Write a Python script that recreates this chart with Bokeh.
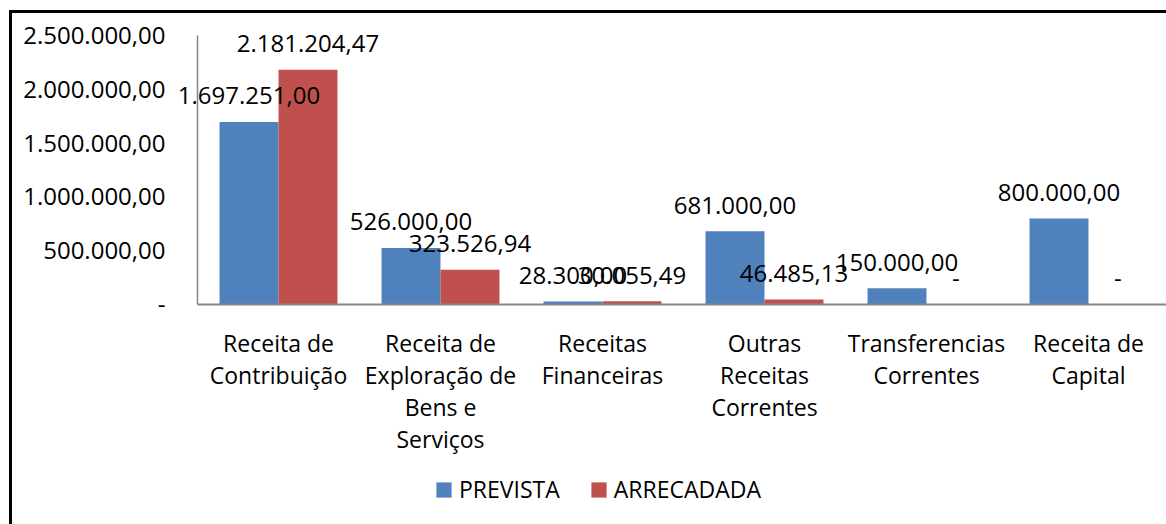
from bokeh.plotting import figure
from bokeh.models import (ColumnDataSource, Range1d, FixedTicker, LabelSet, Legend,
                          LegendItem)
from bokeh.core.properties import value
from bokeh.embed import file_html
from bokeh.resources import INLINE

categories = ["Receita de\nContribuição", "Receita de\nExploração de\nBens e\nServiços",
              "Receitas\nFinanceiras", "Outras\nReceitas\nCorrentes",
              "Transferencias\nCorrentes", "Receita de\nCapital"]
prevista = [1697251.00, 526000.00, 28300.00, 681000.00, 150000.00, 800000.00]
arrecadada = [2181204.47, 323526.94, 30055.49, 46485.13, 0.0, 0.0]
y_ticks = [0, 500000, 1000000, 1500000, 2000000, 2500000]
y_tick_labels = ["-", "500.000,00", "1.000.000,00", "1.500.000,00", "2.000.000,00", "2.500.000,00"]
y_max = 2500000

FONT = "Open Sans"
FS = "23px"
FS_NUM = "24px"
BLUE = "#4F81BD"
RED = "#C0504D"
AXIS = "#868686"


def fmt(v):
    if v == 0:
        return "-"
    s = f"{v:,.2f}"
    return s.replace(",", "X").replace(".", ",").replace("X", ".")


# layout in pixels
W, H = 1166, 524
frame_left = 12         # frame starts just inside the outer border
frame_top = 13
axis_x = 197            # pixel position of the value axis
plot_top = 35           # pixel position of y_max
plot_h = 269            # height of the value area (0 .. y_max)
step = 162.0            # width of one category
line_h = 32             # line spacing of category names
fh = H - frame_top
zero_px = plot_top + plot_h
y_end = y_max * (1 + (plot_top - frame_top) / plot_h)
y_start = -y_max * (H - zero_px) / plot_h
x_end = (W - axis_x) / step

n = len(categories)
xs = [i + 0.5 for i in range(n)]
bw = 0.364

p = figure(frame_width=W - frame_left, frame_height=fh, output_backend="svg",
           toolbar_location=None,
           x_range=Range1d(-(axis_x - frame_left) / step, x_end),
           y_range=Range1d(y_start, y_end),
           min_border_left=frame_left, min_border_top=frame_top, min_border_bottom=0,
           min_border_right=0)
p.outline_line_color = None
p.xgrid.visible = False
p.ygrid.visible = False
p.background_fill_color = "white"
p.border_fill_alpha = 0
# outer chart border (cropped at right/bottom in the reference)
p.styles = {"background": "linear-gradient(#000,#000) 9px 10px / 3px 2000px no-repeat, "
                          "linear-gradient(#000,#000) 9px 10px / 3000px 3px no-repeat, white"}

src_p = ColumnDataSource(dict(x=[x - bw / 2 for x in xs], y=prevista,
                              t=[fmt(v) for v in prevista]))
src_a = ColumnDataSource(dict(x=[x + bw / 2 for x in xs], y=arrecadada,
                              t=[fmt(v) for v in arrecadada]))
r1 = p.vbar(x="x", top="y", width=bw, source=src_p, fill_color=BLUE, line_color=None)
r2 = p.vbar(x="x", top="y", width=bw, source=src_a, fill_color=RED, line_color=None)

for src in (src_p, src_a):
    p.add_layout(LabelSet(x="x", y="y", text="t", source=src, y_offset=26,
                          text_align="center", text_baseline="middle",
                          text_font=value(FONT), text_font_size=FS_NUM, text_color="black"))

# category axis: baseline line + category names, one centred line at a time
p.xaxis.visible = False
p.segment(x0=[0], y0=[0], x1=[x_end], y1=[0], line_color=AXIS, line_width=2)
lines = [c.split("\n") for c in categories]
for k in range(max(len(l) for l in lines)):
    idx = [i for i, l in enumerate(lines) if len(l) > k]
    src_c = ColumnDataSource(dict(x=[xs[i] for i in idx], y=[0] * len(idx),
                                  t=[lines[i][k] for i in idx]))
    p.add_layout(LabelSet(x="x", y="y", text="t", source=src_c,
                          y_offset=-(38 + k * line_h),
                          text_align="center", text_baseline="middle",
                          text_font=value(FONT), text_font_size=FS, text_color="black"))

ya = p.yaxis[0]
ya.fixed_location = 0
ya.ticker = FixedTicker(ticks=y_ticks)
ya.major_label_overrides = {t: l for t, l in zip(y_ticks, y_tick_labels)}
ya.bounds = (0, y_max)
ya.axis_line_color = AXIS
ya.axis_line_width = 1.5
ya.major_tick_in = 0
ya.major_tick_out = 0
ya.minor_tick_line_color = None
ya.major_label_standoff = 32
ya.major_label_text_font = FONT
ya.major_label_text_font_size = FS_NUM
ya.major_label_text_color = "black"

legend = Legend(items=[LegendItem(label="PREVISTA", renderers=[r1]),
                       LegendItem(label="ARRECADADA", renderers=[r2])],
                orientation="horizontal", location=(422, 19),
                label_text_font=FONT, label_text_font_size=FS, label_text_color="black",
                glyph_width=19, glyph_height=19, label_standoff=6, spacing=29,
                border_line_color=None, background_fill_alpha=0,
                margin=0, padding=10)
p.add_layout(legend, "center")

open("out.html", "w").write(file_html(p, INLINE))
